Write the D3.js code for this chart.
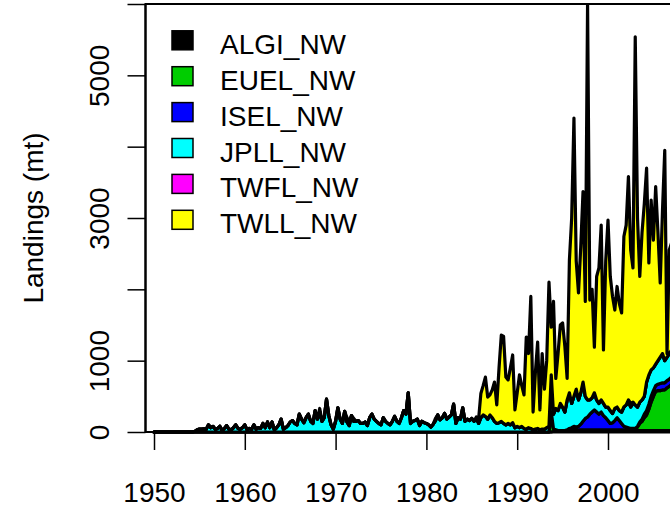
<!DOCTYPE html>
<html><head><meta charset="utf-8">
<script src="https://cdn.jsdelivr.net/npm/d3@7"></script>
<style>body{margin:0;background:#fff}svg{display:block}text{font-family:"Liberation Sans",Arial,Helvetica,sans-serif}</style>
</head><body><svg id="c" width="670" height="510"></svg>
<script>
// ---------- data (quarterly landings, mt) ----------
const seriesNames  = ["ALGI_NW","EUEL_NW","ISEL_NW","JPLL_NW","TWFL_NW","TWLL_NW"];
const seriesColors = ["#000000","#00CD00","#0000FF","#00FFFF","#FF00FF","#FFFF00"];
const firstYear = 1950, lastYear = 2007;
const xTicks = [1950,1960,1970,1980,1990,2000];
const yTicks = [0,1000,2000,3000,4000,5000,6000];
const yTickLabels = ["0","1000","","3000","","5000",""];
const yTitle = "Landings (mt)";

// first year with data for each series (values are 4 quarters per year)
const seriesStart = {ALGI_NW:1994, EUEL_NW:1993, ISEL_NW:1995, JPLL_NW:1954, TWFL_NW:2002, TWLL_NW:1968};

const ALGI_NW = [
 10,10,10,10, 10,10,20,20, 20,20,20,20, 20,20,20,20, 20,20,20,20, 20,20,20,20,
 20,20,20,20, 20,20,20,20, 20,20,20,20, 20,20,20,20, 20,20,20,20, 20,20,20,20,
 20,20,20,20, 20,20,20,20];
const EUEL_NW = [
 0,0,0,280, 30,20,10,10, 10,10,10,10, 10,10,10,10, 10,10,10,10, 10,10,10,10,
 10,10,10,10, 10,10,10,10, 10,10,10,10, 10,10,10,10,
 20,50,100,130, 180,220,300,400, 480,550,560,560, 570,570,600,620, 650,650,650,650];
const ISEL_NW = [
 0,0,0,20, 30,50,40,50, 80,120,160,180, 220,250,280,250, 220,250,200,170,
 130,90,100,130, 170,130,90,50, 40,30,20,20, 10,10,20,30, 50,60,70,80,
 80,80,90,100, 100,100,100,100, 100,100,100,100];
const JPLL_NW = [
 0,0,10,30,        // 1954
 40,40,45,40, 100,60,80,40, 50,80,20,50, 90,40,30,60, 100,50,40,60,
 100,30,50,40, 100,40,60,50, 120,60,140,60, 140,30,60,100, 180,40,60,90,
 140,160,120,100, 250,180,130,200, 250,150,120,300, 180,290,150,200, 460,230,100,40,
 150,340,180,120, 290,140,90,230, 150,150,160,120, 120,140,90,200, 250,180,150,120,
 100,200,150,120, 100,150,220,150, 120,200,300,250, 550,120,150,160, 180,90,150,130,
 120,100,70,110, 160,240,170,200, 260,180,210,240, 390,120,200,180, 340,150,180,160,
 190,150,190,120, 200,240,220,180, 240,200,150,120, 130,150,120,100, 120,100,130,60,
 80,60,80,50, 40,60,50,30, 40,50,30,40, 40,60,80,520, 210,300,280,380,
 330,260,420,500, 340,420,530,370, 440,550,310,240, 200,200,240,170, 150,170,170,150,
 190,180,130,170, 150,140,160,270, 310,360,300,350, 330,270,280,270, 250,400,410,370,
 320,300,330,370, 410,310,330,360, 380,380,380,380];
const TWFL_NW = [
 0,30,50,20, 0,0,0,0, 0,0,0,0, 0,0,0,0, 0,0,0,0, 0,0,0,0];
const TWLL_NW = [
 0,40,0,0,         // 1968
 0,0,0,0, 0,0,0,0, 0,60,60,0, 40,0,0,0, 0,0,0,0, 0,0,0,0, 0,0,0,0, 0,0,0,0,
 0,0,0,0, 0,0,0,0, 0,30,0,0, 0,0,0,0, 30,0,0,0, 0,0,0,0, 0,0,0,0, 0,0,0,0,
 0,0,20,60, 340,410,550,310, 280,390,550,260, 770,1210,1220,670, 610,800,950,250,
 470,740,570,470, 1290,1040,1850,250, 790,1210,280,1060, 560,940,2020,670,
 1580,420,800,1100, 1180,920,300,1860, 2600,3900,1800,1500, 2050,2670,1330,5550,
 1400,1520,640,1730, 1900,2450,750,2050, 2620,1880,1640,1380, 1690,1500,1390,2390,
 2520,3130,2150,1880, 5160,2650,1760,2350, 2700,3000,1570,2380, 1790,2490,1800,1040,
 2000,2950,50,1450, 1500,1500,1500,1500];

const seriesData = {ALGI_NW, EUEL_NW, ISEL_NW, JPLL_NW, TWFL_NW, TWLL_NW};

// ---------- table ----------
const nQ = (lastYear - firstYear + 1) * 4;
const table = [];
for (let i = 0; i < nQ; i++) {
  const row = {t: firstYear + i / 4};
  seriesNames.forEach(k => {
    const off = i - (seriesStart[k] - firstYear) * 4;
    const v = seriesData[k][off];
    row[k] = (off >= 0 && v !== undefined) ? v : 0;
  });
  table.push(row);
}

// ---------- layout ----------
const svg = d3.select("#c");
const L = 145.5, T = 4, B = 432, R = 700;
const x = d3.scaleLinear().domain([1950, 2000]).range([154, 608]);
const y = d3.scaleLinear().domain([0, 6000]).range([B, T]);

svg.append("defs").append("clipPath").attr("id","clip")
  .append("rect").attr("x", L).attr("y", T - 1).attr("width", R - L).attr("height", B - T + 3);

const stack = d3.stack().keys(seriesNames)(table);
const area = d3.area().x(d => x(d.data.t)).y0(d => y(d[0])).y1(d => y(d[1]));

const g = svg.append("g").attr("clip-path","url(#clip)");
g.selectAll("path.layer").data(stack).join("path")
  .attr("class","layer")
  .attr("d", area)
  .attr("fill", (d, i) => seriesColors[i])
  .attr("stroke", "#000")
  .attr("stroke-width", 3.2)
  .attr("stroke-linejoin", "round");

// box
svg.append("rect").attr("x", L).attr("y", T).attr("width", R - L).attr("height", B - T)
  .attr("fill","none").attr("stroke","#000").attr("stroke-width", 2);

// x axis
const xa = svg.append("g").attr("transform", `translate(0,${B})`)
  .call(d3.axisBottom(x).tickValues(xTicks).tickSize(18).tickFormat(d3.format("d")));
xa.select(".domain").remove();
xa.selectAll(".tick line").attr("stroke","#000").attr("stroke-width",1.5);
xa.selectAll(".tick text").attr("y", 70).attr("dy", null)
  .attr("font-size", 28).attr("fill","#000").style("font-family",'"Liberation Sans",Arial,sans-serif');

// y axis
const ya = svg.append("g").attr("transform", `translate(${L},0)`)
  .call(d3.axisLeft(y).tickValues(yTicks).tickSize(18).tickFormat((d, i) => yTickLabels[i]));
ya.select(".domain").attr("d", `M0,${y(0)}V${y(6000)}`).attr("stroke","#000").attr("stroke-width",2);
ya.selectAll(".tick line").attr("stroke","#000").attr("stroke-width",1.5);
ya.selectAll(".tick text").attr("x", 0).attr("y", 0).attr("dy", null)
  .attr("transform","translate(-37,0) rotate(-90)").attr("text-anchor","middle")
  .attr("font-size", 28).attr("fill","#000").style("font-family",'"Liberation Sans",Arial,sans-serif');

// y title
svg.append("text").attr("transform","translate(43,218) rotate(-90)")
  .attr("text-anchor","middle").attr("font-size",28).attr("fill","#000").text(yTitle);

// legend
const lg = svg.append("g");
seriesNames.forEach((n, i) => {
  const cy = 40.3 + i * 35.9;
  lg.append("rect").attr("x", 172).attr("y", cy - 9.5).attr("width", 21).attr("height", 19)
    .attr("fill", seriesColors[i]).attr("stroke","#000").attr("stroke-width",1.5);
  lg.append("text").attr("x", 220).attr("y", cy + 13.5).attr("font-size", 28).attr("fill","#000").text(n);
});
</script></body></html>
